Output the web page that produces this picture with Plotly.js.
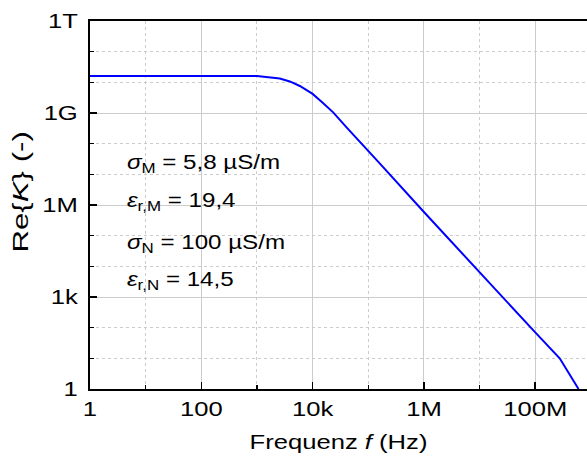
<!DOCTYPE html>
<html>
<head>
<meta charset="utf-8">
<script src="https://cdn.plot.ly/plotly-3.0.1.min.js"></script>
<style>html,body{margin:0;padding:0;background:#fff;}#chart{width:587px;height:459px;}</style>
</head>
<body>
<div id="chart"></div>
<script>
// Data
const freq = [1, 10, 100, 1000, 2570, 3890, 5890, 10000, 15000, 23400, 40700, 81300, 162000, 1e6, 1e7, 2.6e7, 1e8, 2.75e8, 6e8];
const reK  = [1.6e10, 1.6e10, 1.6e10, 1.6e10, 1.33e10, 1.07e10, 7.6e9, 4.2e9, 2.19e9, 1.05e9, 3.4e8, 8.9e7, 2.24e7, 5.9e5, 6.3e3, 1e3, 70, 10, 1];

const xTickVals = [1, 100, 1e4, 1e6, 1e8];
const xTickText = ['1', '100', '10k', '1M', '100M'];
const xMinorVals = [10, 1e3, 1e5, 1e7];
const yTickVals = [1, 1e3, 1e6, 1e9, 1e12];
const yTickText = ['1', '1k', '1M', '1G', '1T'];
const yMinorVals = [10, 100, 1e4, 1e5, 1e7, 1e8, 1e10, 1e11];

const xTitle = 'Frequenz <i>f</i> (Hz)';
const yTitle = 'Re{<i>K</i>} (-)';
const paramLines = [
  '<i>σ</i><sub>M</sub> = 5,8 µS/m',
  '<i>ε</i><sub>r,M</sub> = 19,4',
  '<i>σ</i><sub>N</sub> = 100 µS/m',
  '<i>ε</i><sub>r,N</sub> = 14,5'
];
const paramY = [0.614, 0.51, 0.396, 0.296];

const font = 'Liberation Sans, Arial, sans-serif';
const fs = 21;
const gridCol = '#cccccc';

const trace = {
  x: freq, y: reK, type: 'scatter', mode: 'lines',
  line: {color: '#0000ff', width: 2}, hoverinfo: 'skip'
};

const annos = paramLines.map((t, i) => ({
  text: t, xref: 'paper', yref: 'paper', x: 0.07, y: paramY[i],
  xanchor: 'left', yanchor: 'middle', align: 'left', showarrow: false,
  font: {family: font, size: fs, color: '#000'}
}));
annos.push({
  text: yTitle, xref: 'paper', yref: 'paper', x: -0.139, y: 0.536,
  xanchor: 'center', yanchor: 'middle', textangle: -90, showarrow: false,
  font: {family: font, size: 22, color: '#000'}
});

const layout = {
  width: 587, height: 459,
  margin: {l: 90, r: 0, t: 21, b: 70},
  paper_bgcolor: '#fff', plot_bgcolor: '#fff',
  showlegend: false,
  font: {family: font, size: fs, color: '#000'},
  xaxis: {
    type: 'log', range: [0, 8.93],
    tickmode: 'array', tickvals: xTickVals, ticktext: xTickText,
    ticks: 'inside', ticklen: 7, tickwidth: 1.5, tickcolor: '#000',
    showline: true, linecolor: '#000', linewidth: 2, mirror: true,
    showgrid: true, gridcolor: gridCol, gridwidth: 1,
    zeroline: false,
    tickfont: {family: font, size: fs, color: '#000'},
    minor: {tickmode: 'array', tickvals: xMinorVals, ticks: 'inside', ticklen: 4, tickcolor: '#000',
            showgrid: true, gridcolor: gridCol, gridwidth: 1, griddash: 'dot'},
    title: {text: xTitle, font: {family: font, size: fs, color: '#000'}, standoff: 15}
  },
  yaxis: {
    type: 'log', range: [0, 12],
    tickmode: 'array', tickvals: yTickVals, ticktext: yTickText,
    ticks: 'inside', ticklen: 7, tickwidth: 1.5, tickcolor: '#000',
    showline: true, linecolor: '#000', linewidth: 2, mirror: false,
    showgrid: true, gridcolor: gridCol, gridwidth: 1,
    zeroline: false, ticklabelstandoff: 6,
    tickfont: {family: font, size: fs, color: '#000'},
    minor: {tickmode: 'array', tickvals: yMinorVals, ticks: 'inside', ticklen: 4, tickcolor: '#000',
            showgrid: true, gridcolor: gridCol, gridwidth: 1, griddash: 'dot'}
  },
  annotations: annos
};

function stretch(el, s) {
  const x = parseFloat(el.getAttribute('x') || 0);
  const tr = el.getAttribute('transform') || '';
  el.setAttribute('transform', tr + ' translate(' + x + ',0) scale(' + s + ',1) translate(' + (-x) + ',0)');
}

Plotly.newPlot('chart', [trace], layout, {displayModeBar: false, staticPlot: true}).then(() => {
  // the reference lettering is wider than Arial: stretch each text along its baseline
  document.querySelectorAll('#chart svg .xtick text, #chart svg .ytick text, #chart svg .g-xtitle text').forEach(t => stretch(t, 1.22));
  const annTexts = document.querySelectorAll('#chart svg .annotation text');
  annTexts.forEach((t, i) => stretch(t, i < paramLines.length ? 1.15 : 1.42));
});
</script>
</body>
</html>
